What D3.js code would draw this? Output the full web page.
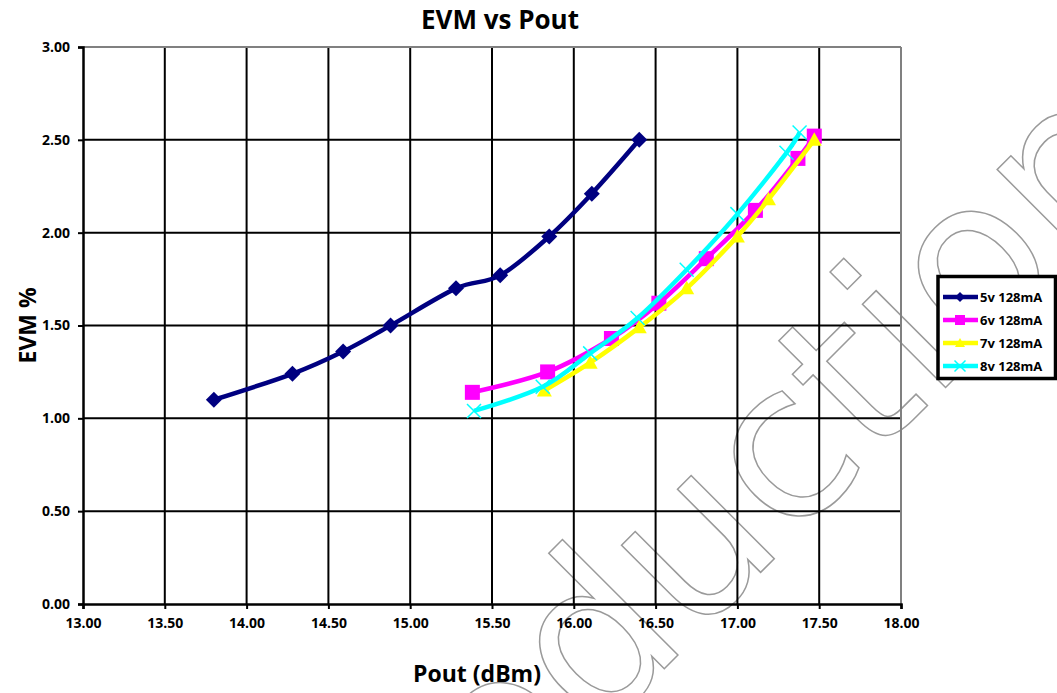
<!DOCTYPE html>
<html>
<head>
<meta charset="utf-8">
<script src="https://cdn.jsdelivr.net/npm/d3@7"></script>
<style>
  html, body { margin: 0; padding: 0; background: #fff; }
  svg { display: block; }
  text { font-family: "Open Sans", "DejaVu Sans", sans-serif; font-weight: bold; }
</style>
</head>
<body>
<svg id="chart" width="1057" height="693"></svg>
<script>
// ---- data ----
const title = "EVM vs Pout";
const xLabel = "Pout (dBm)";
const yLabel = "EVM %";
const xTicks = [13.0, 13.5, 14.0, 14.5, 15.0, 15.5, 16.0, 16.5, 17.0, 17.5, 18.0];
const yTicks = [0.0, 0.5, 1.0, 1.5, 2.0, 2.5, 3.0];
const seriesNames = ["5v 128mA", "6v 128mA", "7v 128mA", "8v 128mA"];

const pout5v = [13.80, 14.28, 14.59, 14.88, 15.28, 15.55, 15.85, 16.11, 16.40];
const evm5v  = [1.10, 1.24, 1.36, 1.50, 1.70, 1.77, 1.98, 2.21, 2.50];

const pout6v = [15.38, 15.84, 16.23, 16.52, 16.81, 17.11, 17.37, 17.47];
const evm6v  = [1.14, 1.25, 1.43, 1.62, 1.86, 2.12, 2.40, 2.52];

const pout7v = [15.82, 16.10, 16.40, 16.69, 17.00, 17.19, 17.47];
const evm7v  = [1.15, 1.30, 1.49, 1.70, 1.98, 2.18, 2.50];

const pout8v = [15.39, 15.81, 16.10, 16.39, 16.69, 17.00, 17.30, 17.38];
const evm8v  = [1.04, 1.17, 1.35, 1.54, 1.80, 2.10, 2.43, 2.54];

const watermark = "Production";

// ---- build ----
const series = [
  { name: seriesNames[0], xs: pout5v, ys: evm5v, color: "#000080", marker: "diamond" },
  { name: seriesNames[1], xs: pout6v, ys: evm6v, color: "#FF00FF", marker: "square" },
  { name: seriesNames[2], xs: pout7v, ys: evm7v, color: "#FFFF00", marker: "triangle" },
  { name: seriesNames[3], xs: pout8v, ys: evm8v, color: "#00FFFF", marker: "cross" }
];

const svg = d3.select("#chart");
const x = d3.scaleLinear().domain([13, 18]).range([83, 901]);
const y = d3.scaleLinear().domain([0, 3]).range([604, 47]);

// watermark (behind everything)
svg.append("text")
  .attr("transform", "translate(354,979) rotate(-45)")
  .attr("x", 0).attr("y", 0)
  .style("font-family", "'DejaVu Sans', sans-serif")
  .style("font-weight", "normal")
  .attr("font-size", 215)
  .attr("fill", "none")
  .attr("stroke", "#9a9a9a")
  .attr("stroke-width", 1.5)
  .text(watermark);

// grid
const grid = svg.append("g");
grid.selectAll("line.h").data(yTicks.filter(d => d > 0 && d < 3)).enter().append("line")
  .attr("x1", x(13)).attr("x2", x(18))
  .attr("y1", d => y(d)).attr("y2", d => y(d))
  .attr("stroke", "#000").attr("stroke-width", 2);
grid.selectAll("line.v").data(xTicks.filter(d => d > 13 && d < 18)).enter().append("line")
  .attr("y1", y(0)).attr("y2", y(3))
  .attr("x1", d => x(d)).attr("x2", d => x(d))
  .attr("stroke", "#000").attr("stroke-width", 2);
// top & right border (gray)
svg.append("line").attr("x1", x(13)).attr("x2", x(18)).attr("y1", y(3)).attr("y2", y(3))
  .attr("stroke", "#808080").attr("stroke-width", 2);
svg.append("line").attr("x1", x(18)).attr("x2", x(18)).attr("y1", y(0)).attr("y2", y(3))
  .attr("stroke", "#808080").attr("stroke-width", 2);

// axes
const xAxis = d3.axisBottom(x).tickValues(xTicks).tickFormat(d3.format(".2f")).tickSize(5).tickPadding(6);
const yAxis = d3.axisLeft(y).tickValues(yTicks).tickFormat(d3.format(".2f")).tickSize(5).tickPadding(8);
const gx = svg.append("g").attr("transform", `translate(0,${y(0)})`).call(xAxis);
const gy = svg.append("g").attr("transform", `translate(${x(13)},0)`).call(yAxis);
[gx, gy].forEach(g => {
  g.select(".domain").attr("stroke", "#000").attr("stroke-width", 2.5);
  g.selectAll(".tick line").attr("stroke", "#000").attr("stroke-width", 2);
  g.selectAll(".tick text").attr("fill", "#000")
    .style("font-family", "'Open Sans', sans-serif").style("font-weight", "bold")
    .attr("font-size", 14);
});
gx.selectAll(".tick text").attr("dy", "0.95em");

// titles
svg.append("text").attr("x", 500).attr("y", 29).attr("text-anchor", "middle")
  .attr("font-size", 26).attr("fill", "#000").text(title);
svg.append("text").attr("x", 477).attr("y", 682).attr("text-anchor", "middle")
  .attr("font-size", 23).attr("fill", "#000").text(xLabel);
svg.append("text").attr("transform", `translate(36,${(y(0) + y(3)) / 2}) rotate(-90)`)
  .attr("text-anchor", "middle").attr("font-size", 23).attr("fill", "#000").text(yLabel);

// markers
function drawMarker(g, type, color, size) {
  const s = size / 2;
  if (type === "diamond") {
    g.append("path").attr("d", `M0,${-s}L${s},0L0,${s}L${-s},0Z`).attr("fill", color);
  } else if (type === "square") {
    g.append("rect").attr("x", -s).attr("y", -s).attr("width", size).attr("height", size).attr("fill", color);
  } else if (type === "triangle") {
    g.append("path").attr("d", `M0,${-s}L${s},${s * 0.8}L${-s},${s * 0.8}Z`).attr("fill", color);
  } else if (type === "cross") {
    g.append("path").attr("d", `M${-s},${-s}L${s},${s}M${-s},${s}L${s},${-s}`)
      .attr("stroke", color).attr("stroke-width", 1.5).attr("fill", "none");
  }
}

const line = d3.line().x(d => x(d[0])).y(d => y(d[1])).curve(d3.curveCardinal.tension(0));
const markerSize = { diamond: 16, square: 15, triangle: 15, cross: 14 };

series.forEach(s => {
  const pts = s.xs.map((v, i) => [v, s.ys[i]]);
  const g = svg.append("g");
  g.append("path").datum(pts).attr("d", line)
    .attr("fill", "none").attr("stroke", s.color)
    .attr("stroke-width", 4.5)
    .attr("stroke-linejoin", "round");
  g.selectAll("g.m").data(pts).enter().append("g")
    .attr("transform", d => `translate(${x(d[0])},${y(d[1])})`)
    .each(function () { drawMarker(d3.select(this), s.marker, s.color, markerSize[s.marker]); });
});

// legend
const lg = svg.append("g");
lg.append("rect").attr("x", 938).attr("y", 276.5).attr("width", 117.5).attr("height", 102)
  .attr("fill", "#fff").attr("stroke", "#000").attr("stroke-width", 3.5);
series.forEach((s, i) => {
  const yy = 297 + i * 23;
  lg.append("line").attr("x1", 943).attr("x2", 978).attr("y1", yy).attr("y2", yy)
    .attr("stroke", s.color).attr("stroke-width", 4.5);
  const mg = lg.append("g").attr("transform", `translate(960,${yy})`);
  drawMarker(mg, s.marker, s.color, s.marker === "cross" ? 11 : 10);
  lg.append("text").attr("x", 980).attr("y", yy + 5).attr("font-size", 13).attr("fill", "#000")
    .text(s.name);
});
</script>
</body>
</html>
